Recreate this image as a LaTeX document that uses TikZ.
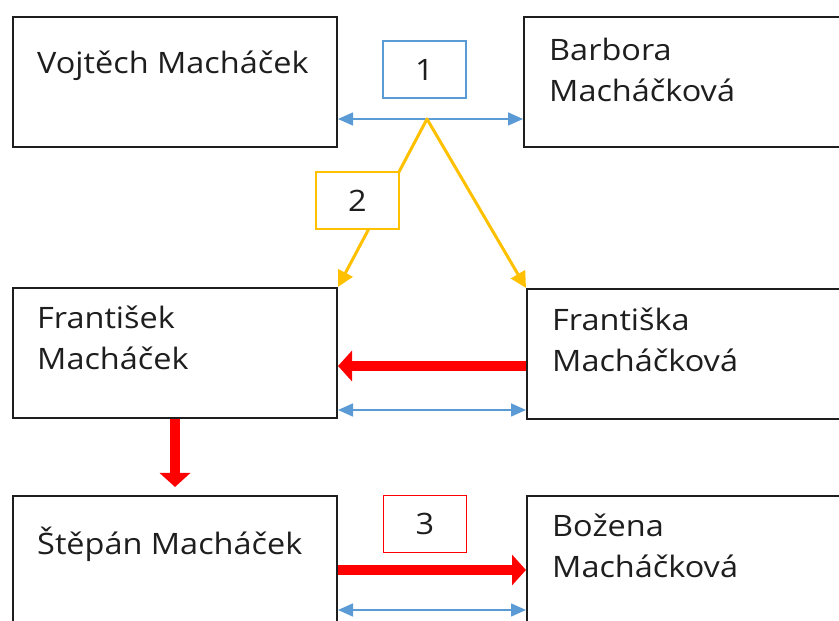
\documentclass[tikz,border=0pt]{standalone}
\usepackage{fontspec}
\setmainfont{Open Sans}[FakeStretch=1.1]
\usepackage{tikz}
\usetikzlibrary{calc,arrows.meta}
\definecolor{tree-blue}{HTML}{5B9BD5}
\definecolor{tree-gold}{HTML}{FFC000}
\definecolor{tree-red}{HTML}{FF0000}
\definecolor{tree-ink}{HTML}{1E1E1E}

\begin{document}
\begin{tikzpicture}[
  x=1pt, y=1pt,
  font=\fontsize{29.5}{41}\selectfont,
  person/.style={rectangle, draw=tree-ink, line width=2pt, minimum width=324pt, minimum height=130pt, inner sep=0pt, anchor=north west},
  nametext/.style={anchor=base west, align=left, inner sep=0pt, text=tree-ink},
  tag/.style={rectangle, draw=#1, line width=1.4pt, fill=white, minimum width=83pt, minimum height=57pt, inner sep=0pt, text=tree-ink},
  marriage/.style={<->, >={Triangle[length=15pt,width=13pt]}, line width=1.6pt, tree-blue},
  offspring/.style={<->, >={Triangle[length=16pt,width=16pt]}, line width=3pt, line join=round, tree-gold},
  heir/.style={->, >={Triangle[length=14pt,width=30pt]}, line width=10pt, tree-red}
]
  \useasboundingbox (0,0) rectangle (839,621);
  \clip (0,0) rectangle (839,621);

  \node[person] (vojtech)   at (12,605) {};
  \node[person] (barbora)   at (523,605) {};
  \node[person] (frantisek) at (12,334) {};
  \node[person] (frantiska) at (526,333) {};
  \node[person] (stepan)    at (12,126) {};
  \node[person] (bozena)    at (526,126) {};

  \node[nametext] (vojtech-name)   at ($(vojtech.north west)+(25,-58)$)   {Vojtěch Macháček};
  \node[nametext] (barbora-name)   at ($(barbora.north west)+(26,-86)$)   {Barbora\\Macháčková};
  \node[nametext] (frantisek-name) at ($(frantisek.north west)+(25,-83)$) {František\\Macháček};
  \node[nametext] (frantiska-name) at ($(frantiska.north west)+(26,-84)$) {Františka\\Macháčková};
  \node[nametext] (stepan-name)    at ($(stepan.north west)+(25,-60)$)    {Štěpán Macháček};
  \node[nametext] (bozena-name)    at ($(bozena.north west)+(26,-83)$)    {Božena\\Macháčková};

  \coordinate (apex) at (427,502);
  \draw[marriage] (apex -| vojtech.east) -- (apex -| barbora.west);
  \draw[offspring] (frantisek.north east) -- (apex) -- (frantiska.north west);
  \draw[heir] ([yshift=-12pt]frantiska.west) -- ([yshift=-12pt]frantiska.west -| frantisek.east);
  \draw[marriage] ([yshift=9pt]frantisek.south east) -- ([yshift=9pt]frantisek.south east -| frantiska.west);
  \draw[heir] (frantisek.south) -- ([yshift=8pt]stepan.north);
  \draw[heir] ([yshift=-75pt]stepan.north east) -- ([yshift=-75pt]bozena.north west);
  \draw[marriage] ([yshift=-115pt]stepan.north east) -- ([yshift=-115pt]bozena.north west);

  \node[tag=tree-blue] (wedding)  at (424.5,551.5) {1};
  \node[tag=tree-gold] (birth)    at (357.5,420.5) {2};
  \node[tag=tree-red]  (transfer) at (425,97) {3};
\end{tikzpicture}
\end{document}
